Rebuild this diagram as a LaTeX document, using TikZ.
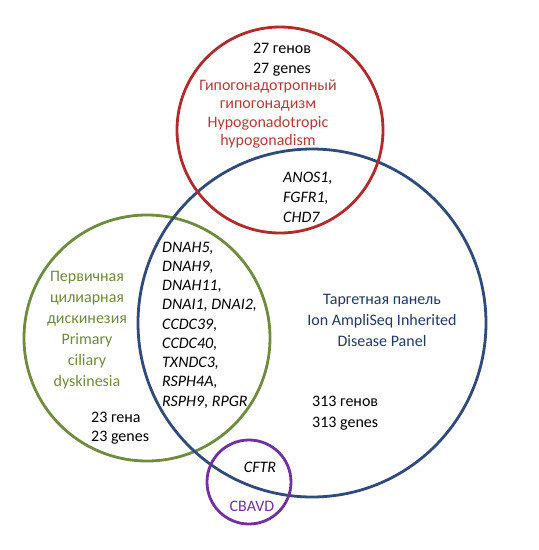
\documentclass[tikz,border=0pt]{standalone}
\usepackage{fontspec}
\setmainfont{Carlito}
\definecolor{hhred}{HTML}{B22A2A}
\definecolor{hhtext}{HTML}{B83A36}
\definecolor{panblue}{HTML}{2F4B7C}
\definecolor{pantext}{HTML}{1F3864}
\definecolor{pcdgreen}{HTML}{6F8B3E}
\definecolor{pcdtext}{HTML}{6E8A3A}
\definecolor{cbpurple}{HTML}{7030A0}
\begin{document}
\begin{tikzpicture}[x=1pt, y=-1pt,
  ring/.style={line width=2.8pt},
  lbl/.style={inner sep=0pt, align=center, font=\fontsize{16}{#1}\selectfont},
  lbl/.default=20,
  genes/.style={inner sep=0pt, align=left, font=\fontsize{16}{#1}\selectfont\itshape},
  genes/.default=20]
\useasboundingbox (0,0) rectangle (539,550);
% circles
\draw[ring, pcdgreen] (147,338) circle (123);
\draw[ring, panblue] (312,323) circle (174);
\draw[ring, hhred] (280,130) circle (103);
\draw[ring, cbpurple] (249,482) circle (42);
% hypogonadism
\node[lbl, anchor=center] (hhcount) at (282,60) {27 генов\\27 genes};
\node[lbl=18.5, text=hhtext] (hhname) at (268,114) {Гипогонадотропный\\гипогонадизм\\Hypogonadotropic\\hypogonadism};
\node[genes, anchor=west] (hhgenes) at (283,197) {ANOS1,\\FGFR1,\\CHD7};
% primary ciliary dyskinesia
\node[lbl=21, text=pcdtext] (pcdname) at (87,330) {Первичная\\цилиарная\\дискинезия\\Primary\\ciliary\\dyskinesia};
\node[lbl=19.5, align=left, anchor=west] (pcdcount) at (91,428) {23 гена\\23 genes};
\node[genes=19.25, anchor=west] (pcdgenes) at (162,325) {DNAH5,\\DNAH9,\\DNAH11,\\DNAI1, DNAI2,\\CCDC39,\\CCDC40,\\TXNDC3,\\RSPH4A,\\RSPH9, RPGR};
% panel
\node[lbl=21, text=pantext] (panname) at (382,320) {Таргетная панель\\Ion AmpliSeq Inherited\\Disease Panel};
\node[lbl=21, align=left, anchor=west] (pancount) at (312,413) {313 генов\\313 genes};
% CBAVD
\node[genes, anchor=center] (cbgene) at (260,467) {CFTR};
\node[lbl, text=cbpurple] (cbname) at (252,506) {CBAVD};
\end{tikzpicture}
\end{document}
